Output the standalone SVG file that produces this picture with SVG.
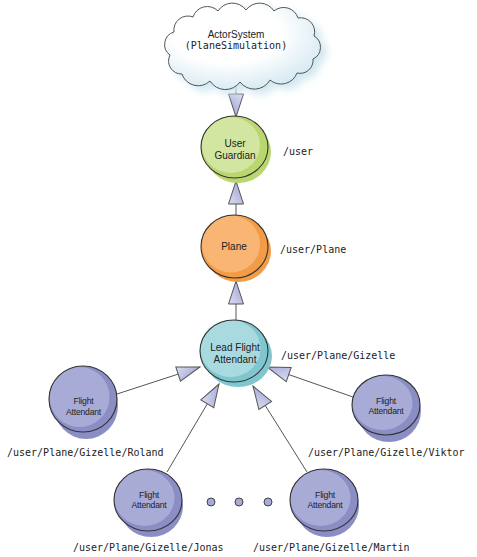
<svg xmlns="http://www.w3.org/2000/svg" width="477" height="557" viewBox="0 0 477 557">
<defs>
<style>
.lbl{font-family:"Liberation Sans",Arial,sans-serif;font-size:10px;fill:#222;text-anchor:middle}
.sm{font-size:8.6px;letter-spacing:-0.2px}
.pth{font-family:"DejaVu Sans Mono","Liberation Mono",monospace;font-size:10px;fill:#222}
.edge{stroke:#555;stroke-width:1;fill:none;marker-end:url(#tri)}
.ol{fill:none;stroke:#333;stroke-width:1.1}
.g1{fill:#bad66f}.g2{fill:#d3e6a1}
.o1{fill:#f29c47}.o2{fill:#f8b574}
.t1{fill:#7fc6cf}.t2{fill:#a9dae0}
.p1{fill:#8b8ec4}.p2{fill:#a8abd6}
</style>
<radialGradient id="cg" cx="0.4" cy="0.35" r="0.7">
<stop offset="0.5" stop-color="#ffffff"/>
<stop offset="1" stop-color="#d3e8f1"/>
</radialGradient>
<linearGradient id="ag" x1="0" y1="0" x2="1" y2="1">
<stop offset="0" stop-color="#dcdef2"/>
<stop offset="1" stop-color="#9a9ed1"/>
</linearGradient>
<filter id="blur" x="-20%" y="-20%" width="140%" height="140%">
<feGaussianBlur stdDeviation="4"/>
</filter>
<path id="cloud" d="M182,74 A13,13 0 0 1 170,55 A13,13 0 0 1 174,32 A14,14 0 0 1 193,17 A15,15 0 0 1 218,11 A17,17 0 0 1 246,10 A17,17 0 0 1 274,11 A15,15 0 0 1 298,18 A14,14 0 0 1 314,36 A13,13 0 0 1 313,59 A13,13 0 0 1 297,73 A17,17 0 0 1 270,80 A18,18 0 0 1 240,82 A18,18 0 0 1 210,81 A17,17 0 0 1 182,74 Z"/>
<marker id="tri" markerUnits="userSpaceOnUse" markerWidth="26" markerHeight="18" viewBox="0 -9 26 18" refX="24" refY="0" orient="auto">
<path d="M1,-7.5 L24,0 L1,7.5 Z" fill="url(#ag)" stroke="#555" stroke-width="1"/>
</marker>
</defs>
<rect width="477" height="557" fill="#ffffff"/>

<g id="connectors">
<line class="edge" x1="236" y1="86" x2="236" y2="117"/>
<line class="edge" x1="236" y1="215" x2="236" y2="181"/>
<line class="edge" x1="236" y1="320" x2="236" y2="281"/>
<line class="edge" x1="117" y1="394" x2="200" y2="367"/>
<line class="edge" x1="353" y1="397" x2="267" y2="367"/>
<line class="edge" x1="167" y1="472" x2="219" y2="384"/>
<line class="edge" x1="307" y1="472" x2="253" y2="386"/>
</g>

<g id="actorsystem">
<use href="#cloud" transform="translate(6,5)" fill="#cfe6f1" filter="url(#blur)"/>
<use href="#cloud" fill="url(#cg)" stroke="#555" stroke-width="1"/>
<text class="lbl" x="236" y="38">ActorSystem</text>
<text class="pth" x="236" y="49" text-anchor="middle">(PlaneSimulation)</text>
</g>

<g id="user-guardian">
<ellipse class="g1" cx="238" cy="152" rx="33" ry="31"/>
<ellipse class="g1" cx="234.5" cy="147" rx="33.5" ry="31"/>
<ellipse class="g2" cx="231" cy="145" rx="29" ry="28"/>
<ellipse class="ol" cx="234.5" cy="147" rx="33.5" ry="31"/>
<text class="lbl" x="235" y="146.5">User</text>
<text class="lbl" x="235" y="159">Guardian</text>
<text class="pth" x="283" y="155">/user</text>
</g>

<g id="plane">
<ellipse class="o1" cx="238" cy="251" rx="33" ry="31"/>
<ellipse class="o1" cx="234.5" cy="246.5" rx="33.5" ry="31.5"/>
<ellipse class="o2" cx="231" cy="244" rx="29" ry="28.5"/>
<ellipse class="ol" cx="234.5" cy="246.5" rx="33.5" ry="31.5"/>
<text class="lbl" x="234" y="250">Plane</text>
<text class="pth" x="280" y="253">/user/Plane</text>
</g>

<g id="lead-flight-attendant">
<ellipse class="t1" cx="238" cy="356" rx="34" ry="31"/>
<ellipse class="t1" cx="234" cy="351" rx="34" ry="31"/>
<ellipse class="t2" cx="230.5" cy="348.5" rx="30" ry="28.5"/>
<ellipse class="ol" cx="234" cy="351" rx="34" ry="31"/>
<text class="lbl" x="235" y="351">Lead Flight</text>
<text class="lbl" x="235" y="363">Attendant</text>
<text class="pth" x="281" y="359">/user/Plane/Gizelle</text>
</g>

<g id="fa-roland">
<ellipse class="p1" cx="86" cy="406" rx="32" ry="33"/>
<ellipse class="p1" cx="83" cy="399" rx="34" ry="33"/>
<ellipse class="p2" cx="79.5" cy="397" rx="30" ry="30"/>
<ellipse class="ol" cx="83" cy="399" rx="34" ry="33"/>
<text class="lbl sm" x="83.5" y="404">Flight</text>
<text class="lbl sm" x="83.5" y="415">Attendant</text>
<text class="pth" x="7" y="456">/user/Plane/Gizelle/Roland</text>
</g>

<g id="fa-viktor">
<ellipse class="p1" cx="389" cy="411" rx="32" ry="31"/>
<ellipse class="p1" cx="386" cy="405" rx="34" ry="30"/>
<ellipse class="p2" cx="382.5" cy="403" rx="30" ry="27"/>
<ellipse class="ol" cx="386" cy="405" rx="34" ry="30"/>
<text class="lbl sm" x="386" y="403.5">Flight</text>
<text class="lbl sm" x="386" y="414">Attendant</text>
<text class="pth" x="308" y="456">/user/Plane/Gizelle/Viktor</text>
</g>

<g id="fa-jonas">
<ellipse class="p1" cx="151" cy="506" rx="32" ry="31"/>
<ellipse class="p1" cx="148" cy="500" rx="34" ry="31"/>
<ellipse class="p2" cx="144.5" cy="498" rx="30" ry="28"/>
<ellipse class="ol" cx="148" cy="500" rx="34" ry="31"/>
<text class="lbl sm" x="149" y="497.5">Flight</text>
<text class="lbl sm" x="149" y="507.5">Attendant</text>
<text class="pth" x="73" y="551">/user/Plane/Gizelle/Jonas</text>
</g>

<g id="dots">
<circle cx="211" cy="502" r="4" class="p2" stroke="#444" stroke-width="1"/>
<circle cx="239" cy="502" r="4" class="p2" stroke="#444" stroke-width="1"/>
<circle cx="268" cy="502" r="4" class="p2" stroke="#444" stroke-width="1"/>
</g>

<g id="fa-martin">
<ellipse class="p1" cx="327" cy="506" rx="32" ry="31"/>
<ellipse class="p1" cx="324" cy="500" rx="34" ry="31"/>
<ellipse class="p2" cx="320.5" cy="498" rx="30" ry="28"/>
<ellipse class="ol" cx="324" cy="500" rx="34" ry="31"/>
<text class="lbl sm" x="325" y="497.5">Flight</text>
<text class="lbl sm" x="325" y="507.5">Attendant</text>
<text class="pth" x="253" y="551">/user/Plane/Gizelle/Martin</text>
</g>
</svg>
